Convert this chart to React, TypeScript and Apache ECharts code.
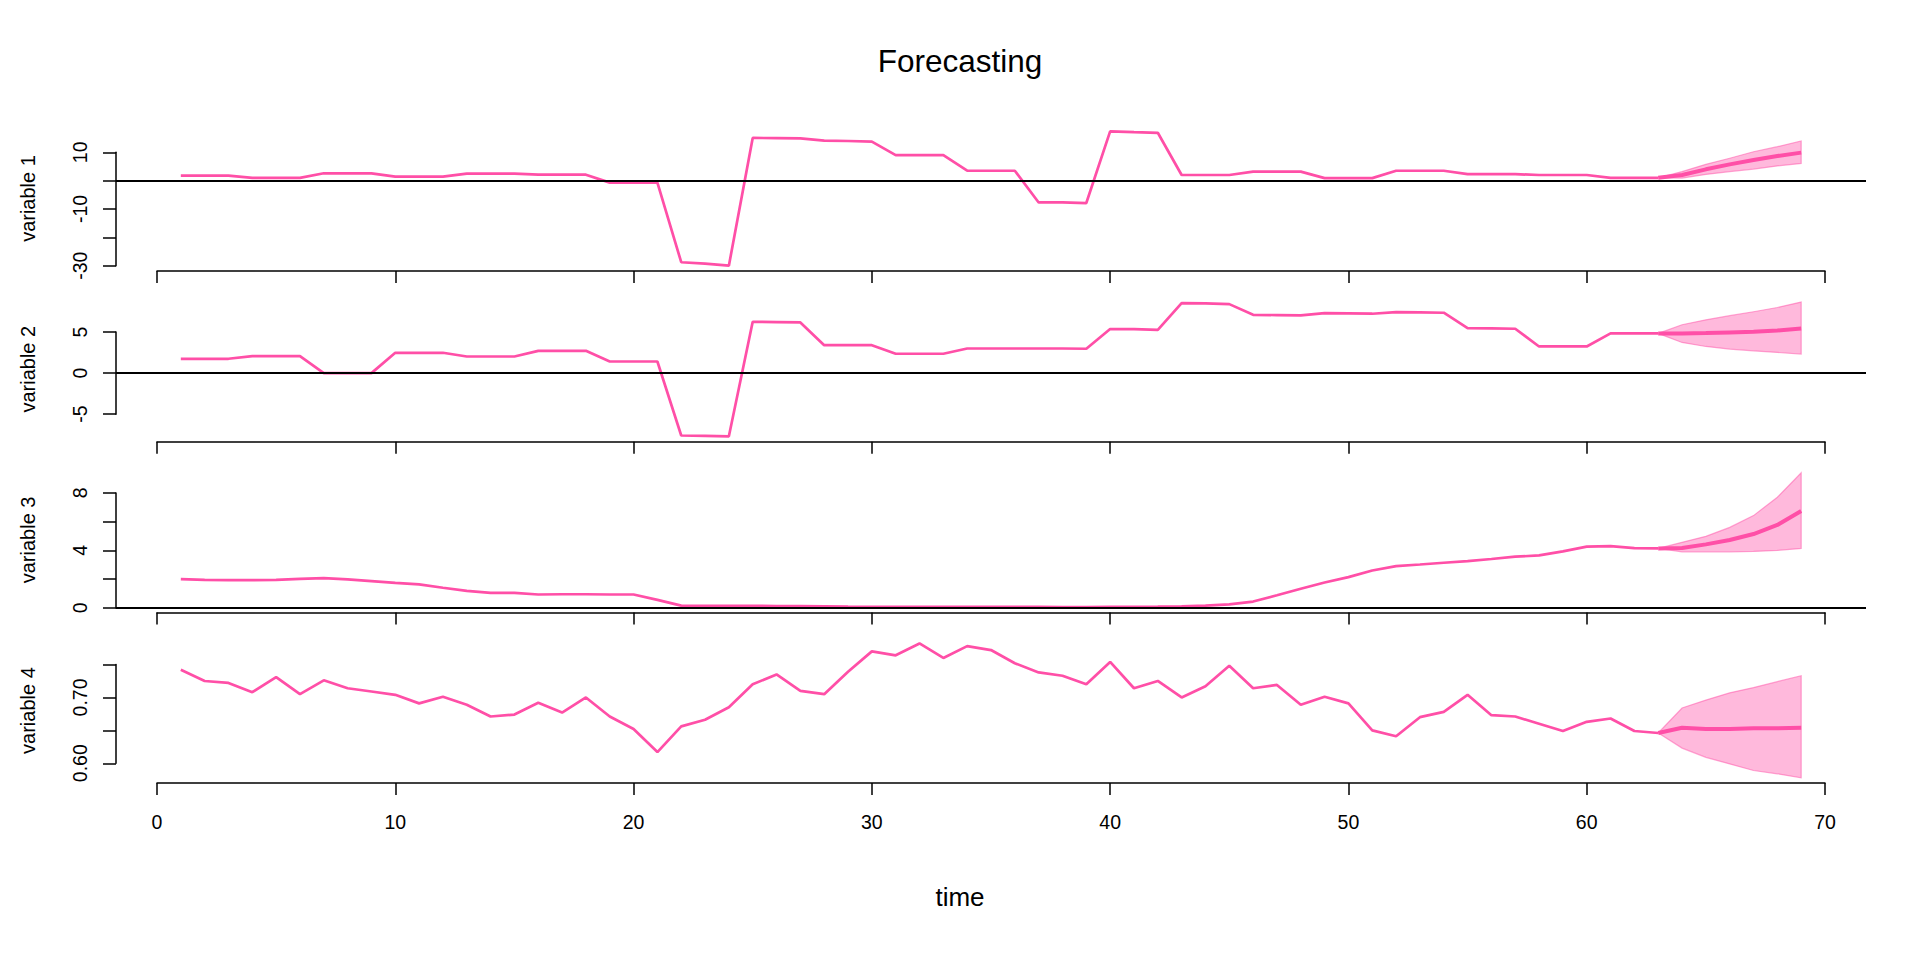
import React, { useEffect, useRef } from "react";
import * as echarts from "echarts";

// ---------- data ----------
const histTime = Array.from({ length: 63 }, (_, i) => i + 1);
const foreTime = [63, 64, 65, 66, 67, 68, 69];

const v1Hist = [
  1.8, 1.8, 1.8, 1.0, 1.0, 1.0, 2.6, 2.6, 2.6, 1.4, 1.4, 1.4, 2.5, 2.5, 2.5, 2.1, 2.1, 2.1,
  -0.7, -0.7, -0.7, -28.8, -29.3, -30.0, 15.1, 15.0, 14.9, 14.1, 14.0, 13.8, 9.0, 9.0, 9.0,
  3.5, 3.5, 3.5, -7.7, -7.7, -7.9, 17.4, 17.1, 16.9, 2.0, 2.0, 2.0, 3.2, 3.2, 3.2, 0.9, 0.9, 0.9,
  3.5, 3.5, 3.5, 2.3, 2.3, 2.3, 2.0, 2.0, 2.0, 1.0, 1.0, 1.0,
];
const v1Fore = [1.0, 2.0, 4.0, 5.75, 7.3, 8.7, 9.9];
const v1Upper = [1.0, 3.2, 5.75, 7.9, 10.2, 12.0, 14.0];
const v1Lower = [1.0, 0.9, 2.2, 3.2, 4.1, 5.2, 6.1];

const v2Hist = [
  1.75, 1.75, 1.75, 2.07, 2.07, 2.07, 0, 0, 0, 2.48, 2.48, 2.48, 2.03, 2.03, 2.03, 2.72, 2.72, 2.72,
  1.42, 1.42, 1.42, -7.6, -7.64, -7.7, 6.26, 6.22, 6.18, 3.41, 3.41, 3.41, 2.36, 2.36, 2.36,
  3.0, 3.0, 3.0, 3.0, 3.0, 2.97, 5.37, 5.37, 5.28, 8.54, 8.5, 8.41, 7.11, 7.07, 7.03, 7.32, 7.28, 7.24,
  7.44, 7.4, 7.36, 5.49, 5.45, 5.41, 3.25, 3.25, 3.25, 4.84, 4.84, 4.84,
];
const v2Fore = [4.84, 4.84, 4.88, 4.96, 5.04, 5.2, 5.45];
const v2Upper = [4.84, 5.9, 6.5, 7.0, 7.48, 8.0, 8.66];
const v2Lower = [4.84, 3.74, 3.25, 2.93, 2.72, 2.52, 2.32];

const v3Hist = [
  2.0, 1.95, 1.93, 1.93, 1.95, 2.02, 2.07, 1.98, 1.86, 1.74,
  1.63, 1.4, 1.19, 1.05, 1.05, 0.93, 0.95, 0.95, 0.93, 0.93,
  0.56, 0.16, 0.14, 0.14, 0.14, 0.13, 0.12, 0.11, 0.09, 0.08,
  0.07, 0.07, 0.07, 0.08, 0.08, 0.07, 0.07, 0.06, 0.06, 0.07,
  0.08, 0.09, 0.11, 0.16, 0.24, 0.44, 0.88, 1.33, 1.77, 2.14,
  2.6, 2.91, 3.02, 3.14, 3.26, 3.4, 3.56, 3.65, 3.93, 4.26,
  4.3, 4.16, 4.14,
];
const v3Fore = [4.14, 4.16, 4.42, 4.72, 5.14, 5.77, 6.74];
const v3Upper = [4.14, 4.56, 4.98, 5.6, 6.42, 7.7, 9.4];
const v3Lower = [4.14, 3.9, 3.9, 3.9, 3.93, 4.0, 4.14];

const v4Hist = [
  0.742, 0.725, 0.722, 0.708, 0.731, 0.705, 0.726, 0.714, 0.709, 0.704,
  0.691, 0.701, 0.689, 0.671, 0.674, 0.692, 0.677, 0.7, 0.671, 0.652,
  0.617, 0.656, 0.666, 0.685, 0.72, 0.735, 0.71, 0.705, 0.739, 0.77,
  0.764, 0.782, 0.76, 0.778, 0.772, 0.752, 0.738, 0.733, 0.72, 0.754,
  0.714, 0.725, 0.7, 0.717, 0.748, 0.714, 0.719, 0.689, 0.701, 0.691,
  0.65, 0.641, 0.67, 0.678, 0.704, 0.673, 0.671, 0.66, 0.649, 0.663,
  0.668, 0.649, 0.646,
];
const v4Fore = [0.646, 0.654, 0.652, 0.652, 0.653, 0.653, 0.654];
const v4Upper = [0.646, 0.684, 0.696, 0.707, 0.715, 0.724, 0.733];
const v4Lower = [0.646, 0.623, 0.609, 0.599, 0.589, 0.584, 0.578];

const yTicks1 = [-30, -20, -10, 0, 10];
const yLabels1 = ["-30", "-10", "10"];
const yTicks2 = [-5, 0, 5];
const yLabels2 = ["-5", "0", "5"];
const yTicks3 = [0, 2, 4, 6, 8];
const yLabels3 = ["0", "4", "8"];
const yTicks4 = [0.6, 0.65, 0.7, 0.75];
const yLabels4 = ["0.60", "0.70"];

const xTicks = [0, 10, 20, 30, 40, 50, 60, 70];
const variableNames = ["variable 1", "variable 2", "variable 3", "variable 4"];
const mainTitle = "Forecasting";
const xLabel = "time";

// ---------- style / layout ----------
const FONT = "'Liberation Sans', Arial, Helvetica, sans-serif";
const LINE = "#ff4fa7";
const BAND = "rgba(255, 79, 167, 0.4)";
const BAND_EDGE = "rgba(255, 79, 167, 0.5)";
const W = 1920;
const PLOT_LEFT = 116;
const PLOT_RIGHT = 1866;
const AXIS_LEFT = 157;
const AXIS_RIGHT = 1825;
const PANEL_TOP0 = 126;
const PANEL_STEP = 170.7;
const PANEL_H = 145;

type Panel = {
  name: string;
  hist: number[];
  fore: number[];
  upper: number[];
  lower: number[];
  ticks: number[];
  labels: string[];
  dec: number;
  zero: boolean;
};

const panels: Panel[] = [
  { name: variableNames[0], hist: v1Hist, fore: v1Fore, upper: v1Upper, lower: v1Lower, ticks: yTicks1, labels: yLabels1, dec: 0, zero: true },
  { name: variableNames[1], hist: v2Hist, fore: v2Fore, upper: v2Upper, lower: v2Lower, ticks: yTicks2, labels: yLabels2, dec: 0, zero: true },
  { name: variableNames[2], hist: v3Hist, fore: v3Fore, upper: v3Upper, lower: v3Lower, ticks: yTicks3, labels: yLabels3, dec: 0, zero: true },
  { name: variableNames[3], hist: v4Hist, fore: v4Fore, upper: v4Upper, lower: v4Lower, ticks: yTicks4, labels: yLabels4, dec: 2, zero: false },
];

function buildOption() {
  const allT = [...histTime, ...foreTime];
  const tMin = Math.min(...allT);
  const tMax = Math.max(...allT);
  const tPad = 0.04 * (tMax - tMin);
  const xMin = tMin - tPad;
  const xMax = tMax + tPad;

  const grid: any[] = [];
  const xAxis: any[] = [];
  const yAxis: any[] = [];
  const series: any[] = [];

  panels.forEach((p, i) => {
    const top = PANEL_TOP0 + i * PANEL_STEP;
    const all = [...p.hist, ...p.fore, ...p.upper, ...p.lower];
    const lo = Math.min(...all);
    const hi = Math.max(...all);
    const pad = 0.04 * (hi - lo);
    const yMin = lo - pad;
    const yMax = hi + pad;
    const yPx = (v: number) => top + ((yMax - v) / (yMax - yMin)) * PANEL_H;
    const tkMin = p.ticks[0];
    const tkMax = p.ticks[p.ticks.length - 1];
    const tkInt = +(p.ticks[1] - p.ticks[0]).toFixed(6);
    const g = i * 3;

    // data grid (plot region)
    grid.push({ left: PLOT_LEFT, right: W - PLOT_RIGHT, top, height: PANEL_H, outerBoundsMode: "none" });
    xAxis.push({ gridIndex: g, type: "value", min: xMin, max: xMax, show: false });
    yAxis.push({
      gridIndex: g,
      type: "value",
      min: yMin,
      max: yMax,
      axisLine: { show: false },
      axisTick: { show: false },
      axisLabel: { show: false },
      splitLine: { show: false },
      name: p.name,
      nameLocation: "middle",
      nameRotate: 90,
      nameGap: 78,
      nameTextStyle: { fontSize: 20, color: "#000", fontFamily: FONT },
    });

    // y-axis grid (spans first..last tick, like R's axis())
    grid.push({
      left: PLOT_LEFT,
      right: W - PLOT_RIGHT,
      top: yPx(tkMax),
      height: yPx(tkMin) - yPx(tkMax),
      outerBoundsMode: "none",
    });
    xAxis.push({ gridIndex: g + 1, type: "value", min: 0, max: 1, show: false });
    yAxis.push({
      gridIndex: g + 1,
      type: "value",
      min: tkMin,
      max: tkMax,
      interval: tkInt,
      axisLine: { show: true, lineStyle: { color: "#000", width: 1.5 } },
      axisTick: { show: true, length: 13, lineStyle: { color: "#000", width: 1.5 } },
      axisLabel: {
        show: true,
        rotate: 90,
        margin: 26,
        fontSize: 19.5,
        color: "#000",
        fontFamily: FONT,
        formatter: (v: number) => {
          const s = v.toFixed(p.dec);
          return p.labels.includes(s) ? s : "";
        },
      },
      splitLine: { show: false },
    });

    // x-axis grid (0..70 span)
    const bottom = top + PANEL_H;
    grid.push({
      left: AXIS_LEFT,
      right: W - AXIS_RIGHT,
      top: bottom - 1,
      height: 1,
      outerBoundsMode: "none",
    });
    xAxis.push({
      gridIndex: g + 2,
      type: "value",
      min: xTicks[0],
      max: xTicks[xTicks.length - 1],
      interval: xTicks[1] - xTicks[0],
      position: "bottom",
      axisLine: { show: true, lineStyle: { color: "#000", width: 1.5 } },
      axisTick: { show: true, length: 12, lineStyle: { color: "#000", width: 1.5 } },
      axisLabel: {
        show: i === panels.length - 1,
        margin: 29,
        fontSize: 19.5,
        color: "#000",
        fontFamily: FONT,
      },
      splitLine: { show: false },
    });
    yAxis.push({ gridIndex: g + 2, type: "value", show: false });

    const histData = histTime.map((t, k) => [t, p.hist[k]]);
    const foreData = foreTime.map((t, k) => [t, p.fore[k]]);
    const bandData = foreTime.map((t, k) => [t, p.lower[k], p.upper[k]]);

    // forecast band (polygon through the axis scales)
    series.push({
      type: "custom",
      xAxisIndex: g,
      yAxisIndex: g,
      data: bandData,
      encode: { x: 0, y: [1, 2] },
      z: 2,
      silent: true,
      renderItem: (params: any, api: any) => {
        if (params.dataIndex !== 0) return null;
        const up = bandData.map((d) => api.coord([d[0], d[2]]));
        const dn = bandData.map((d) => api.coord([d[0], d[1]])).reverse();
        return {
          type: "polygon",
          shape: { points: [...up, ...dn] },
          style: { fill: BAND, stroke: BAND_EDGE, lineWidth: 1.2 },
        };
      },
    });
    series.push({
      type: "line",
      xAxisIndex: g,
      yAxisIndex: g,
      data: histData,
      symbol: "none",
      lineStyle: { color: LINE, width: 2.7 },
      z: 3,
      markLine: p.zero
        ? {
            silent: true,
            symbol: ["none", "none"],
            label: { show: false },
            lineStyle: { color: "#000", width: 2, type: "solid" },
            data: [{ yAxis: 0 }],
          }
        : undefined,
    });
    series.push({
      type: "line",
      xAxisIndex: g,
      yAxisIndex: g,
      data: foreData,
      symbol: "none",
      lineStyle: { color: LINE, width: 4 },
      z: 4,
    });
  });

  return {
    animation: false,
    backgroundColor: "#fff",
    title: [
      {
        text: mainTitle,
        left: "center",
        top: 40,
        textStyle: { fontSize: 31.5, fontWeight: "normal", color: "#000", fontFamily: FONT },
      },
      {
        text: xLabel,
        left: "center",
        top: 879,
        textStyle: { fontSize: 26, fontWeight: "normal", color: "#000", fontFamily: FONT },
      },
    ],
    grid,
    xAxis,
    yAxis,
    series,
  };
}

export default function App() {
  const ref = useRef<HTMLDivElement>(null);
  useEffect(() => {
    if (!ref.current) return;
    const chart = echarts.init(ref.current, undefined, { renderer: "svg" });
    chart.setOption(buildOption() as any);
    return () => chart.dispose();
  }, []);
  return (
    <div
      ref={ref}
      style={{ position: "fixed", left: 0, top: 0, width: 1920, height: 960, background: "#fff" }}
    />
  );
}
